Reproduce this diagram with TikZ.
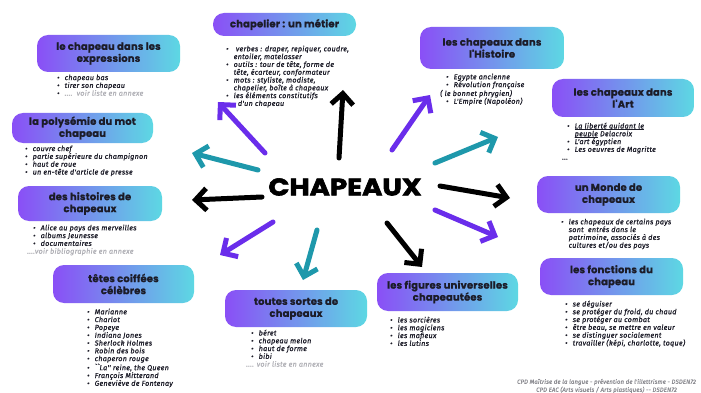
\documentclass[tikz,border=0pt]{standalone}
\usepackage{fontspec}
\setmainfont{Fira Sans}
\newfontfamily\titlefont{Poppins}[FakeBold=0.8,LetterSpace=1.5]
\newfontfamily\bigfont{Poppins}[FakeBold=2.5]
\newfontfamily\listfont{Fira Sans}[FakeBold=0.9,LetterSpace=3.5]
\newfontfamily\footfont{Fira Sans}[FakeBold=0.6,LetterSpace=2]
\usetikzlibrary{arrows.meta}
\definecolor{boxL}{HTML}{8A4FF6}
\definecolor{boxR}{HTML}{5DD8E3}
\definecolor{purp}{HTML}{6A2DEB}
\definecolor{tealc}{HTML}{1E98AB}
\definecolor{ink}{HTML}{1C1C28}
\definecolor{grayt}{HTML}{B0B0B6}
\definecolor{footc}{HTML}{8A8A90}
\newcommand{\bl}{\makebox[7.5pt][l]{•}}
\newcommand{\ind}{\hspace*{7.5pt}}
\newcommand{\ulx}[1]{\setbox0\hbox{#1}\rlap{\rule[-1.2pt]{\wd0}{0.45pt}}#1}
\tikzset{
  box/.style={rounded corners=11pt, left color=boxL, right color=boxR, draw=none,
    align=center, text=ink, inner sep=0pt,
    font=\titlefont\bfseries\fontsize{10}{12}\selectfont},
  lst/.style={anchor=north west, align=left, inner sep=0pt, text=ink,
    font=\listfont\itshape\fontsize{7.2}{7.8}\selectfont},
  arr/.style={line width=5pt, line cap=round,
    -{Straight Barb[length=11pt,width=22pt]}},
}
\begin{document}
\begin{tikzpicture}[x=1pt,y=-1pt]
\useasboundingbox[fill=white] (0,0) rectangle (701,393);

% boxes
\node[box, minimum width=143, minimum height=37] (expr) at (108.5,53.5) {le chapeau dans les\\expressions};
\node[box, minimum width=141, minimum height=30] (poly) at (82.5,128) {la polysémie du mot\\chapeau};
\node[box, minimum width=143, minimum height=23] (metier) at (284.5,24.5) {chapelier : un métier};
\node[box, minimum width=144, minimum height=42] (hist) at (492,48) {les chapeaux dans\\l'Histoire};
\node[box, minimum width=142, minimum height=38] (art) at (623,98) {les chapeaux dans\\l'Art};
\node[box, minimum width=144, minimum height=35] (histoires) at (90,203.5) {des histoires de\\chapeaux};
\node[box, minimum width=141, minimum height=38] (tetes) at (123.5,284) {têtes coiffées\\célèbres};
\node[box, minimum width=142, minimum height=37] (sortes) at (296,308.5) {toutes sortes de\\chapeaux};
\node[box, minimum width=141, minimum height=38] (figures) at (447.5,292) {les figures universelles\\chapeautées};
\node[box, minimum width=143, minimum height=37] (monde) at (608.5,194.5) {un Monde de\\chapeaux};
\node[box, minimum width=143, minimum height=37] (fonctions) at (611.5,276.5) {les fonctions du\\chapeau};

% centre
\node[font=\bigfont\bfseries\fontsize{24}{24}\selectfont, text=black, inner sep=0pt] (centre) at (345,187) {\scalebox{1.15}[1]{CHAPEAUX}};

% lists
\node[lst] (lexpr) at (57,74.5) {\bl chapeau bas\\ \bl tirer son chapeau\\ \bl{\color{grayt}....\ \ voir liste en annexe}};
\node[lst] (lpoly) at (25,145.5) {\bl couvre chef\\ \bl partie supérieure du champignon\\ \bl haut de roue\\ \bl un en-tête d'article de presse};
\node[lst] (lmetier) at (226,45.5) {\bl\ verbes : draper, repiquer, coudre,\\ \ind entoiler, matelasser\\ \bl outils : tour de tête, forme de\\ \ind tête, écarteur, conformateur\\ \bl mots : styliste, modiste,\\ \ind chapelier, boîte à chapeaux\\ \bl les éléments constitutifs\\ \ind\ \ d'un chapeau};
\node[lst] (lhist) at (440,73.5) {\hspace*{6pt}\bl Egypte ancienne\\ \hspace*{6pt}\bl Révolution française\\ ( le bonnet phrygien)\\ \hspace*{6pt}\bl L'Empire (Napoléon)};
\node[lst] (lart) at (562,122.5) {\hspace*{5pt}\bl\ulx{La liberté guidant le}\\ \hspace*{5pt}\ind\ulx{peuple} Delacroix\\ \hspace*{5pt}\bl L'art égyptien\\ \hspace*{5pt}\bl Les oeuvres de Magritte\\ ...};
\node[lst] (lhistoires) at (27,224.5) {\hspace*{6pt}\bl Alice au pays des merveilles\\ \hspace*{6pt}\bl albums Jeunesse\\ \hspace*{6pt}\bl documentaires\\ {\color{grayt}....voir bibliographie en annexe}};
\node[lst] (ltetes) at (87,308.5) {\bl Marianne\\ \bl Charlot\\ \bl Popeye\\ \bl Indiana Jones\\ \bl Sherlock Holmes\\ \bl Robin des bois\\ \bl chaperon rouge\\ \bl ``La'' reine, the Queen\\ \bl François Mitterand\\ \bl Geneviève de Fontenay};
\node[lst] (lsortes) at (246,329.5) {\hspace*{5pt}\bl béret\\ \hspace*{5pt}\bl chapeau melon\\ \hspace*{5pt}\bl haut de forme\\ \hspace*{5pt}\bl bibi\\ {\color{grayt}.... voir liste en annexe}};
\node[lst] (lfigures) at (390,316.5) {\bl les sorcières\\ \bl les magiciens\\ \bl les mafieux\\ \bl les lutins};
\node[lst] (lmonde) at (561,218.5) {\bl les chapeaux de certains pays\\ \ind sont\ \ entrés dans le\\ \ind patrimoine, associés à des\\ \ind cultures et/ou des pays};
\node[lst] (lfonctions) at (565,300.5) {\bl se déguiser\\ \bl se protéger du froid, du chaud\\ \bl se protéger au combat\\ \bl être beau, se mettre en valeur\\ \bl se distinguer socialement\\ \bl travailler (képi, charlotte, toque)};

% footer
\node[align=center, inner sep=0pt, text=footc, font=\footfont\itshape\fontsize{6}{8}\selectfont] (footer) at (606.5,386)
  {CPD Maîtrise de la langue - prévention de l'illettrisme - DSDEN72\\CPD EAC (Arts visuels / Arts plastiques) -- DSDEN72};

% arrow coordinates
\coordinate (s1) at (265,153); \coordinate (e1) at (218,102);
\coordinate (s2) at (339,158); \coordinate (e2) at (343,90);
\coordinate (s3) at (392,150); \coordinate (e3) at (430,95);
\coordinate (s4) at (435,163); \coordinate (e4) at (498,137);
\coordinate (s5) at (440,186); \coordinate (e5) at (510,198);
\coordinate (s6) at (435,210); \coordinate (e6) at (498,237);
\coordinate (s7) at (387,223); \coordinate (e7) at (422,267);
\coordinate (s8) at (317,230); \coordinate (e8) at (303,280);
\coordinate (s9) at (273,222); \coordinate (e9) at (220,255);
\coordinate (s10) at (262,197); \coordinate (e10) at (192,200);
\coordinate (s11) at (258,170); \coordinate (e11) at (192,153);

\draw[arr, purp] (s1) -- (e1);
\draw[arr, black] (s2) -- (e2);
\draw[arr, purp] (s3) -- (e3);
\draw[arr, tealc] (s4) -- (e4);
\draw[arr, black] (s5) -- (e5);
\draw[arr, purp] (s6) -- (e6);
\draw[arr, black] (s7) -- (e7);
\draw[arr, tealc] (s8) -- (e8);
\draw[arr, purp] (s9) -- (e9);
\draw[arr, black] (s10) -- (e10);
\draw[arr, tealc] (s11) -- (e11);
\end{tikzpicture}
\end{document}
